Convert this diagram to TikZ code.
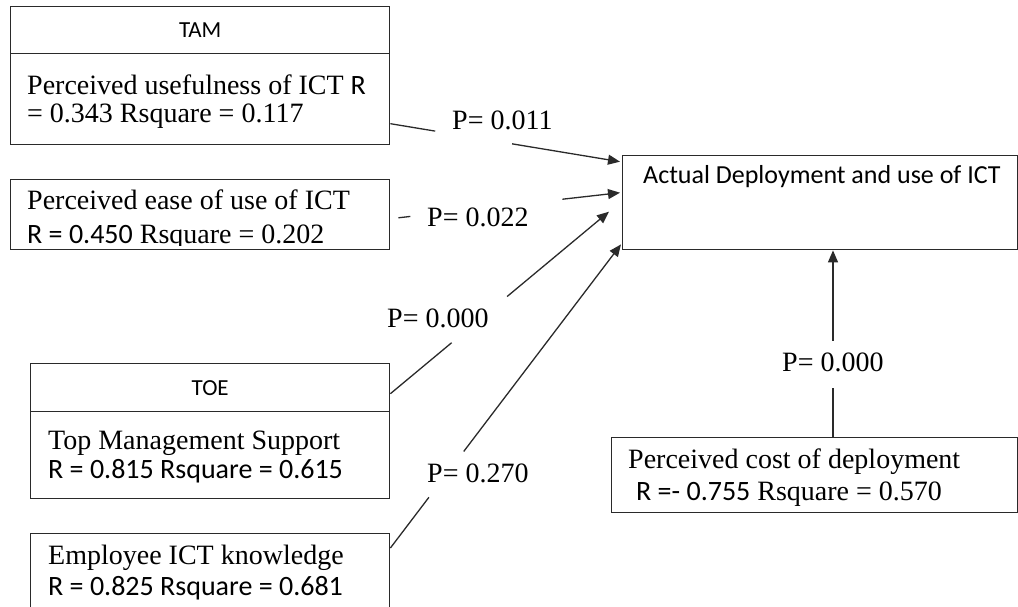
\documentclass[tikz,border=0pt]{standalone}
\usepackage{fontspec}
\setmainfont{Liberation Serif}
\newfontfamily\calfont{Carlito}
\usetikzlibrary{arrows.meta,calc}
\definecolor{linec}{HTML}{2A2A2A}
\begin{document}
\begin{tikzpicture}[x=1pt,y=-1pt,
  box/.style={draw=linec, line width=1.4pt, rectangle, inner sep=0pt, anchor=north west},
  head/.style={box, font=\calfont\fontsize{23}{26}\selectfont},
  txt/.style={anchor=base west, inner sep=0pt, font=\fontsize{28}{30}\selectfont},
  stxt/.style={anchor=base west, inner sep=0pt, font=\calfont\fontsize{28}{30}\selectfont},
  atxt/.style={anchor=base west, inner sep=0pt, font=\calfont\fontsize{26}{30}\selectfont},
  conn/.style={line width=1.3pt, draw=linec},
  arr/.style={conn, -{Triangle[length=12pt,width=10pt]}},
  plab/.style={anchor=west, inner sep=0pt, font=\fontsize{28}{30}\selectfont}
]
\useasboundingbox (0,0) rectangle (1018,607);
\clip (0,0) rectangle (1018,607);

% boxes
\node[head, minimum width=379pt, minimum height=47pt] (tamhead) at (10,6) {TAM};
\node[box, minimum width=379pt, minimum height=91pt] (tambody) at (10,53) {};
\node[box, minimum width=379pt, minimum height=70pt] (ease) at (10,179) {};
\node[head, minimum width=359pt, minimum height=48pt] (toehead) at (30,363) {TOE};
\node[box, minimum width=359pt, minimum height=87pt] (toebody) at (30,411) {};
\node[box, minimum width=359pt, minimum height=100pt] (emp) at (30,533) {};
\node[box, minimum width=395pt, minimum height=94pt] (actual) at (622,155) {};
\node[box, minimum width=406pt, minimum height=75pt] (cost) at (611,437) {};

% texts
\node[txt] (t1a) at (27,95) {Perceived usefulness of ICT {\calfont R}};
\node[txt] (t1b) at (27,123) {= 0.343 Rsquare = 0.117};
\begin{scope}
  \clip (ease.north west) rectangle ($(ease.south east)+(0,-5)$);
  \node[txt] (t2a) at (27,209) {Perceived ease of use of ICT};
  \node[txt] (t2b) at (27,243) {{\calfont R = 0.450} Rsquare = 0.202};
\end{scope}
\node[txt] (t3a) at (48,449) {Top Management Support};
\node[stxt] (t3b) at (48,478) {R = 0.815 Rsquare = 0.615};
\node[txt] (t4a) at (48,564) {Employee ICT knowledge};
\node[stxt] (t4b) at (48,595) {R = 0.825 Rsquare = 0.681};
\node[atxt] (t5) at (643,184) {Actual Deployment and use of ICT};
\node[txt] (t6a) at (628,468) {Perceived cost of deployment};
\node[txt] (t6b) at (636,500) {{\calfont R =- 0.755} Rsquare = 0.570};

% P labels
\node[plab] (p1) at (452,120) {P= 0.011};
\node[plab] (p2) at (427,217) {P= 0.022};
\node[plab] (p3) at (387,318) {P= 0.000};
\node[plab] (p4) at (427,473) {P= 0.270};
\node[plab] (p5) at (782,362) {P= 0.000};

% connectors
\coordinate (c1s) at ($(tambody.east)+(0,24.5)$);
\coordinate (c1e) at ($(actual.west)+(-2,-41)$);
\draw[conn] (c1s) -- ($(c1s)!0.195!(c1e)$);
\draw[arr] ($(c1s)!0.53!(c1e)$) -- (c1e);

\coordinate (c2s) at ($(ease.east)+(0,4)$);
\coordinate (c2e) at ($(actual.west)+(-2,-10)$);
\draw[conn] ($(c2s)!0.035!(c2e)$) -- ($(c2s)!0.087!(c2e)$);
\draw[arr] ($(c2s)!0.749!(c2e)$) -- (c2e);

\coordinate (c3s) at ($(toehead.east)+(0,6)$);
\coordinate (c3e) at ($(actual.west)+(-13,9)$);
\draw[conn] (c3s) -- ($(c3s)!0.28!(c3e)$);
\draw[arr] ($(c3s)!0.534!(c3e)$) -- (c3e);

\coordinate (c4s) at ($(emp.north east)+(0,15)$);
\coordinate (c4e) at ($(actual.south west)+(-1,-6)$);
\draw[conn] (c4s) -- ($(c4s)!0.167!(c4e)$);
\draw[arr] ($(c4s)!0.318!(c4e)$) -- (c4e);

\coordinate (c5s) at ($(cost.north west)+(222,0)$);
\coordinate (c5e) at (c5s |- actual.south);
\draw[conn] (c5s) -- ($(c5s)!0.26!(c5e)$);
\draw[arr] ($(c5s)!0.516!(c5e)$) -- (c5e);
\end{tikzpicture}
\end{document}
